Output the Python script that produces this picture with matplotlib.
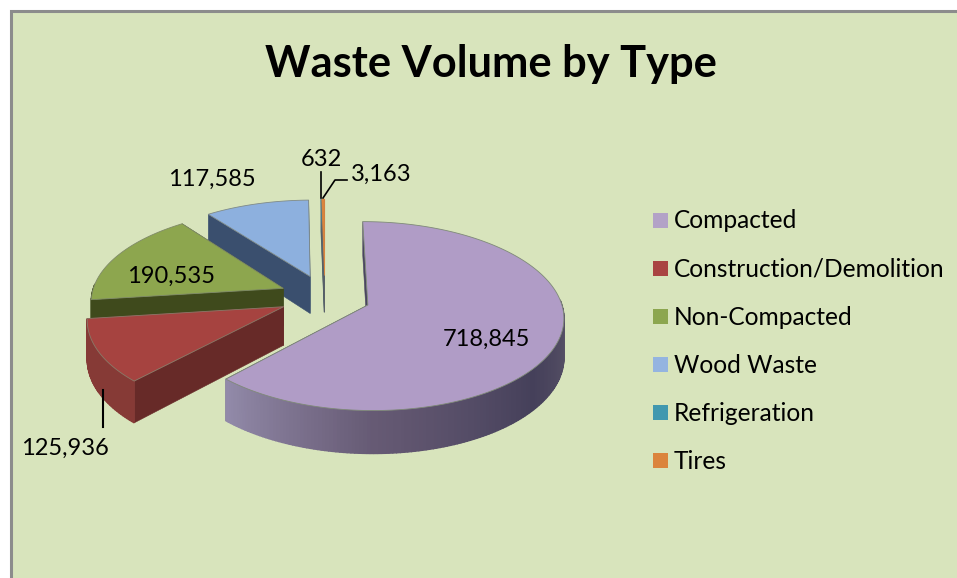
import matplotlib
matplotlib.use('Agg')
import matplotlib.pyplot as plt
import numpy as np
from matplotlib.patches import Polygon, Rectangle

categories = ['Compacted', 'Construction/Demolition', 'Non-Compacted',
              'Wood Waste', 'Refrigeration', 'Tires']
volumes = [718845, 125936, 190535, 117585, 632, 3163]

top_colors = ['#B09CC6', '#A64340', '#8DA64E', '#8DB0DE', '#4198AF', '#DB843D']
wall_colors = ['#4A4560', '#672A28', '#3F4A1C', '#3A4F6E', '#4F5F68', '#5A6068']
rim_colors = [None, '#863A36', '#3F4A1C', '#3A4F6E', '#4F5F68', '#5A6068']
edge_colors = ['#7F8A78', '#8A7A68', '#7F8A68', '#7F8A88', '#4198AF', '#DB843D']
legend_colors = ['#B3A2C7', '#A94442', '#8CA64F', '#94B4E0', '#4198AF', '#DB843D']

# where each value label sits, in picture pixels
label_xy = [(486, 339), (65, 448), (171, 276), (212, 179), (321, 159), (381, 174)]

BG = '#D8E4BC'
CX, CY = 325.0, 296.7   # pie centre
RX, RY = 192.0, 92.5
EXPLODE = 0.238
DEPTH = 38.0
PERSP = 0.12

plt.rcParams['font.family'] = ['Lato', 'DejaVu Sans']

fig = plt.figure(figsize=(9.57, 5.78), dpi=100)
ax = fig.add_axes([0, 0, 1, 1])
ax.set_xlim(0, 957)
ax.set_ylim(578, 0)
ax.axis('off')

ax.add_patch(Rectangle((11, 11), 950, 570, fc=BG, ec='#8C8C8C', lw=2.2))


def project(u, v):
    # disk coordinates to pixels, the far side of the disk shrinks
    s = 1 - PERSP * v
    return CX + RX * u * s, CY - RY * v * s, DEPTH * s


def quad(p0, p1, color, zorder, lw=0.4):
    x0, y0, d0 = p0
    x1, y1, d1 = p1
    pts = [(x0, y0), (x1, y1), (x1, y1 + d1), (x0, y0 + d0)]
    ax.add_patch(Polygon(pts, closed=True, fc=color, ec=color, lw=lw, zorder=zorder))


def compacted_wall(t):
    # light on the cut end, dark round the right hand side
    deg = np.degrees(t)
    stops = [95, 130, 180, 224]
    reds = [0x5A, 0x45, 0x66, 0x93]
    greens = [0x54, 0x40, 0x5A, 0x8B]
    blues = [0x68, 0x5A, 0x74, 0xAA]
    return (np.interp(deg, stops, reds) / 255,
            np.interp(deg, stops, greens) / 255,
            np.interp(deg, stops, blues) / 255)


total = sum(volumes)
edges = np.radians(np.concatenate([[0], np.cumsum(volumes) / total * 360]))

# back to front
for z, i in enumerate([3, 4, 5, 2, 1, 0]):
    t0, t1 = edges[i], edges[i + 1]
    mid = (t0 + t1) / 2
    off_u = EXPLODE * np.sin(mid)
    off_v = EXPLODE * np.cos(mid)
    apex = project(off_u, off_v)

    ts = np.linspace(t0, t1, max(3, int(np.degrees(t1 - t0)) + 2))
    rim = [project(off_u + np.sin(t), off_v + np.cos(t)) for t in ts]
    base = 10 + z * 3

    quad(apex, rim[0], wall_colors[i], base)
    quad(apex, rim[-1], wall_colors[i], base)

    for j in range(len(ts) - 1):
        tm = (ts[j] + ts[j + 1]) / 2
        if np.cos(tm) > 0.05:
            continue
        c = compacted_wall(tm) if i == 0 else rim_colors[i]
        quad(rim[j], rim[j + 1], c, base + 1, lw=1.0)

    pts = [apex[:2]] + [p[:2] for p in rim]
    ax.add_patch(Polygon(pts, closed=True, fc=top_colors[i], ec=edge_colors[i], lw=0.6,
                         joinstyle='round', zorder=base + 2))

for v, (lx, ly) in zip(volumes, label_xy):
    ax.text(lx, ly, f'{v:,}', ha='center', va='center', fontsize=17, color='black', zorder=40)

# leader lines
ax.plot([321, 321], [172, 198], color='black', lw=1.2, zorder=40)
ax.plot([323, 335, 347], [198, 180, 180], color='black', lw=1.2, zorder=40)
ax.plot([103, 103], [390, 427], color='black', lw=1.5, zorder=40)

# legend
for k, (name, c) in enumerate(zip(categories, legend_colors)):
    y = 220 + k * 48.1
    ax.add_patch(Rectangle((653, y - 7.5), 15, 15, fc=c, ec='none', zorder=40))
    ax.text(674, y + 1, name, ha='left', va='center', fontsize=17.65, color='black', zorder=40)

ax.text(491, 64, 'Waste Volume by Type', ha='center', va='center', fontsize=31.2,
        fontweight='bold', color='black', zorder=40)

fig.savefig('out.png', dpi=100, facecolor='white')
